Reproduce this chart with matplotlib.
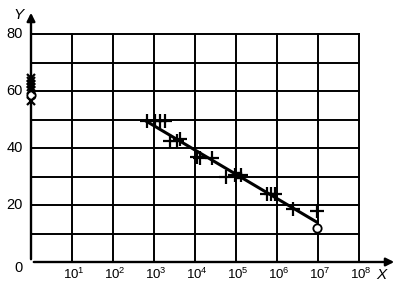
import matplotlib.pyplot as plt
import numpy as np

plt.rcParams['font.family'] = ['Liberation Sans', 'DejaVu Sans']

# data, x given as log10 of the value
plus_x = [2.82, 3.02, 3.15, 3.28, 3.38, 3.55, 3.64, 4.05, 4.13, 4.42, 4.75, 4.98, 5.12, 5.75, 5.85, 5.95, 6.4, 6.97]
plus_y = [49.5, 49.5, 49.5, 49.5, 42.5, 42.5, 43.0, 37.0, 36.5, 36.5, 30.0, 30.5, 30.5, 24.0, 24.0, 24.0, 18.5, 18.0]
square_x = [5.05]
square_y = [30.5]
circle_x = [6.97, 0.0]
circle_y = [12.0, 58.5]
cross_x = [0.0, 0.0, 0.0, 0.0, 0.0, 0.0]
cross_y = [56.5, 60.5, 61.5, 62.5, 63.5, 64.5]
fit_x = [2.8, 6.97]
fit_y = [49.5, 14.0]

decades = [1, 2, 3, 4, 5, 6, 7, 8]
y_ticks = [0, 20, 40, 60, 80]

fig = plt.figure(figsize=(3.99, 2.87), dpi=100)
ax = fig.add_axes([31/399, 25/287, 366/399, 252/287])
ax.set_xlim(0, 366/41)
ax.set_ylim(0, 252/2.85)
ax.axis('off')

# grid
for d in decades:
    ax.plot([d, d], [0, 80], color='black', lw=1.4, zorder=1)
for yv in range(10, 90, 10):
    ax.plot([0, 8], [yv, yv], color='black', lw=1.4, zorder=1)

# axes with arrows
ax.annotate('', xy=(366/41, 0), xytext=(0, 0),
            arrowprops=dict(arrowstyle='-|>', color='black', lw=1.7, mutation_scale=12))
ax.annotate('', xy=(0, 252/2.85), xytext=(0, 0),
            arrowprops=dict(arrowstyle='-|>', color='black', lw=1.7, mutation_scale=12))

# tick labels
for d in decades:
    ax.text(d + 0.05, -1.8, r'$\mathregular{10^{%d}}$' % d, ha='center', va='top',
            fontsize=9.5, clip_on=False)
for yv in y_ticks:
    ypos = -2.0 if yv == 0 else yv
    ax.text(-0.2, ypos, str(yv), ha='right', va='center', fontsize=10.5, clip_on=False)
ax.text(8.55, -2.2, 'X', ha='center', va='top', fontsize=11, style='italic', clip_on=False)
ax.text(-0.3, 86.5, 'Y', ha='center', va='center', fontsize=11, style='italic', clip_on=False)

# data
ax.plot(fit_x, fit_y, color='black', lw=2.2, zorder=3)
ax.plot(plus_x, plus_y, '+', color='black', ms=10, mew=1.6, zorder=4)
ax.plot(square_x, square_y, 's', color='black', ms=5, zorder=4)
ax.plot(circle_x, circle_y, 'o', mfc='white', mec='black', ms=6, mew=1.3, zorder=5, clip_on=False)
ax.plot(cross_x, cross_y, 'x', color='black', ms=6, mew=1.6, zorder=5, clip_on=False)

fig.savefig('out.png', dpi=100)
